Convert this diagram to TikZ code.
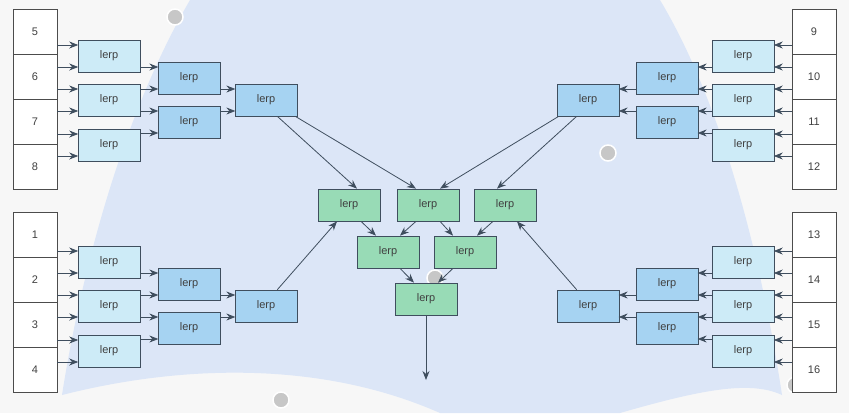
\documentclass[tikz,border=0pt]{standalone}
\usepackage{fontspec}
\setmainfont{Liberation Sans}
\usetikzlibrary{arrows.meta}
\definecolor{lbox}{HTML}{CDEBF7}
\definecolor{mbox}{HTML}{A6D3F2}
\definecolor{gbox}{HTML}{98DBB6}
\definecolor{surf}{HTML}{DCE6F7}
\definecolor{bord}{HTML}{3F4E5E}
\begin{document}
\begin{tikzpicture}[x=1pt,y=-1pt,
  num/.style={draw=black!70,fill=white,minimum width=44pt,minimum height=45pt,inner sep=0,font=\fontsize{11}{13}\selectfont,text=black!75},
  box/.style={draw=bord,line width=0.7pt,minimum width=62pt,minimum height=32pt,inner sep=0,font=\fontsize{11}{13}\selectfont,text=black!75},
  l1/.style={box,fill=lbox},
  l2/.style={box,fill=mbox},
  gr/.style={box,fill=gbox},
  ar/.style={-{Stealth[length=9pt,width=7pt]},draw=bord,line width=0.8pt}]
\useasboundingbox (0,0) rectangle (849,413);
\fill[black!3] (0,0) rectangle (849,413);
\fill[surf] (190,0) .. controls (120,120) and (80,280) .. (62,395)
  .. controls (180,365) and (320,360) .. (440,413) -- (620,413)
  .. controls (700,390) and (750,380) .. (782,395)
  .. controls (760,250) and (720,100) .. (660,0) -- cycle;
\foreach \p in {(175,17),(608,153),(281,400),(795,385),(435,278)}
  \filldraw[fill=black!22,draw=white,line width=1.5pt] \p circle (8);
\foreach \n/\y in {5/32,6/77,7/122,8/167,1/235,2/280,3/325,4/370}
  \node[num] (n\n) at (35,\y) {\n};
\foreach \n/\y in {9/32,10/77,11/122,12/167,13/235,14/280,15/325,16/370}
  \node[num] (n\n) at (814,\y) {\n};
\foreach \s/\c/\dy in {L/109/0,B/109/206}{
  \node[l1] (\s a) at (\c,56+\dy) {lerp};
  \node[l1] (\s b) at (\c,100+\dy) {lerp};
  \node[l1] (\s c) at (\c,145+\dy) {lerp};
  \node[l2] (\s d) at (189,78+\dy) {lerp};
  \node[l2] (\s e) at (189,122+\dy) {lerp};
  \node[l2] (\s f) at (266,100+\dy) {lerp};
}
\foreach \s/\dy in {R/0,S/206}{
  \node[l1] (\s a) at (743,56+\dy) {lerp};
  \node[l1] (\s b) at (743,100+\dy) {lerp};
  \node[l1] (\s c) at (743,145+\dy) {lerp};
  \node[l2] (\s d) at (667,78+\dy) {lerp};
  \node[l2] (\s e) at (667,122+\dy) {lerp};
  \node[l2] (\s f) at (588,100+\dy) {lerp};
}
\node[gr] (g1) at (349,205) {lerp};
\node[gr] (g2) at (428,205) {lerp};
\node[gr] (g3) at (505,205) {lerp};
\node[gr] (h1) at (388,252) {lerp};
\node[gr] (h2) at (465,252) {lerp};
\node[gr] (k) at (426,299) {lerp};
\coordinate (out) at (426,380);
\foreach \s/\p/\q/\r/\t in {L/n5/n6/n7/n8,B/n1/n2/n3/n4}{
  \draw[ar] (\p.east |- \s a.west) ++(0,-11) -- ++(21,0);
  \draw[ar] (\q.east |- \s a.west) ++(0,11) -- ++(21,0);
  \draw[ar] (\q.east |- \s b.west) ++(0,-11) -- ++(21,0);
  \draw[ar] (\r.east |- \s b.west) ++(0,11) -- ++(21,0);
  \draw[ar] (\r.east |- \s c.west) ++(0,-11) -- ++(21,0);
  \draw[ar] (\t.east |- \s c.west) ++(0,11) -- ++(21,0);
  \draw[ar] (\s a.east |- \s d.west) ++(0,-11) -- ++(18,0);
  \draw[ar] (\s b.east |- \s d.west) ++(0,11) -- ++(18,0);
  \draw[ar] (\s b.east |- \s e.west) ++(0,-11) -- ++(18,0);
  \draw[ar] (\s c.east |- \s e.west) ++(0,11) -- ++(18,0);
  \draw[ar] (\s d.east |- \s f.west) ++(0,-11) -- ++(15,0);
  \draw[ar] (\s e.east |- \s f.west) ++(0,11) -- ++(15,0);
}
\foreach \s/\p/\q/\r/\t in {R/n9/n10/n11/n12,S/n13/n14/n15/n16}{
  \draw[ar] (\p.west |- \s a.east) ++(0,-11) -- ++(-18,0);
  \draw[ar] (\q.west |- \s a.east) ++(0,11) -- ++(-18,0);
  \draw[ar] (\q.west |- \s b.east) ++(0,-11) -- ++(-18,0);
  \draw[ar] (\r.west |- \s b.east) ++(0,11) -- ++(-18,0);
  \draw[ar] (\r.west |- \s c.east) ++(0,-11) -- ++(-18,0);
  \draw[ar] (\t.west |- \s c.east) ++(0,11) -- ++(-18,0);
  \draw[ar] (\s a.west |- \s d.east) ++(0,-11) -- ++(-14,0);
  \draw[ar] (\s b.west |- \s d.east) ++(0,11) -- ++(-14,0);
  \draw[ar] (\s b.west |- \s e.east) ++(0,-11) -- ++(-14,0);
  \draw[ar] (\s c.west |- \s e.east) ++(0,11) -- ++(-14,0);
  \draw[ar] (\s d.west |- \s f.east) ++(0,-11) -- ++(-17,0);
  \draw[ar] (\s e.west |- \s f.east) ++(0,11) -- ++(-17,0);
}
\draw[ar] (Lf.south east) ++(-20,0) -- ([xshift=8pt]g1.north);
\draw[ar] (Lf.south east) ++(-2,0) -- ([xshift=-12pt]g2.north);
\draw[ar] (Rf.south west) ++(2,0) -- ([xshift=12pt]g2.north);
\draw[ar] (Rf.south west) ++(20,0) -- ([xshift=-8pt]g3.north);
\draw[ar] (Bf.north east) ++(-20,0) -- ([xshift=-12pt]g1.south);
\draw[ar] (Sf.north west) ++(20,0) -- ([xshift=12pt]g3.south);
\draw[ar] ([xshift=12pt]g1.south) -- ([xshift=-12pt]h1.north);
\draw[ar] ([xshift=-12pt]g2.south) -- ([xshift=12pt]h1.north);
\draw[ar] ([xshift=12pt]g2.south) -- ([xshift=-12pt]h2.north);
\draw[ar] ([xshift=-12pt]g3.south) -- ([xshift=12pt]h2.north);
\draw[ar] ([xshift=12pt]h1.south) -- ([xshift=-12pt]k.north);
\draw[ar] ([xshift=-12pt]h2.south) -- ([xshift=12pt]k.north);
\draw[ar] (k.south) -- (out);
\end{tikzpicture}
\end{document}
